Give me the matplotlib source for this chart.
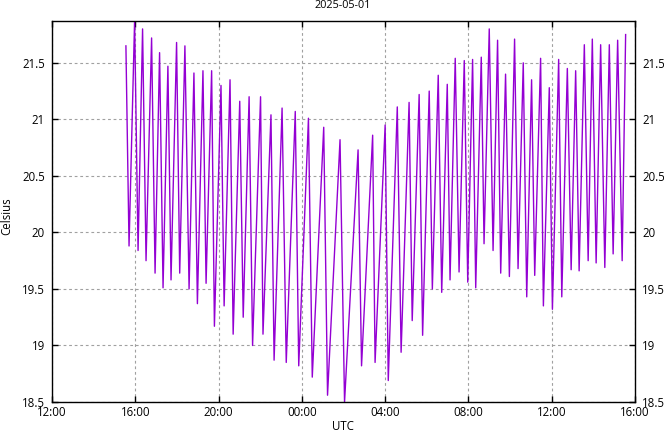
import pandas as pd
import matplotlib
matplotlib.use("Agg")
import matplotlib.pyplot as plt
import matplotlib.dates as mdates
from matplotlib.ticker import FormatStrFormatter

# Turning points of the temperature trace (UTC)
times = [
    "2025-04-30 15:33", "2025-04-30 15:42", "2025-04-30 15:58", "2025-04-30 16:08",
    "2025-04-30 16:21", "2025-04-30 16:31", "2025-04-30 16:47", "2025-04-30 16:57",
    "2025-04-30 17:10", "2025-04-30 17:20", "2025-04-30 17:34", "2025-04-30 17:43",
    "2025-04-30 17:59", "2025-04-30 18:08", "2025-04-30 18:23", "2025-04-30 18:35",
    "2025-04-30 18:49", "2025-04-30 18:59", "2025-04-30 19:15", "2025-04-30 19:24",
    "2025-04-30 19:40", "2025-04-30 19:48", "2025-04-30 20:07", "2025-04-30 20:16",
    "2025-04-30 20:33", "2025-04-30 20:42", "2025-04-30 21:01", "2025-04-30 21:11",
    "2025-04-30 21:28", "2025-04-30 21:38", "2025-04-30 22:01", "2025-04-30 22:08",
    "2025-04-30 22:31", "2025-04-30 22:40", "2025-04-30 23:03", "2025-04-30 23:15",
    "2025-04-30 23:41", "2025-04-30 23:51", "2025-05-01 00:19", "2025-05-01 00:30",
    "2025-05-01 01:03", "2025-05-01 01:14", "2025-05-01 01:50", "2025-05-01 02:03",
    "2025-05-01 02:42", "2025-05-01 02:52", "2025-05-01 03:24", "2025-05-01 03:31",
    "2025-05-01 04:00", "2025-05-01 04:09", "2025-05-01 04:35", "2025-05-01 04:46",
    "2025-05-01 05:09", "2025-05-01 05:18", "2025-05-01 05:38", "2025-05-01 05:48",
    "2025-05-01 06:07", "2025-05-01 06:16", "2025-05-01 06:33", "2025-05-01 06:43",
    "2025-05-01 06:59", "2025-05-01 07:07", "2025-05-01 07:22", "2025-05-01 07:33",
    "2025-05-01 07:48", "2025-05-01 07:58", "2025-05-01 08:12", "2025-05-01 08:21",
    "2025-05-01 08:37", "2025-05-01 08:45", "2025-05-01 09:00", "2025-05-01 09:11",
    "2025-05-01 09:24", "2025-05-01 09:33", "2025-05-01 09:47", "2025-05-01 09:58",
    "2025-05-01 10:13", "2025-05-01 10:23", "2025-05-01 10:38", "2025-05-01 10:48",
    "2025-05-01 11:02", "2025-05-01 11:11", "2025-05-01 11:28", "2025-05-01 11:36",
    "2025-05-01 11:53", "2025-05-01 12:02", "2025-05-01 12:20", "2025-05-01 12:29",
    "2025-05-01 12:45", "2025-05-01 12:56", "2025-05-01 13:09", "2025-05-01 13:19",
    "2025-05-01 13:34", "2025-05-01 13:45", "2025-05-01 13:57", "2025-05-01 14:08",
    "2025-05-01 14:21", "2025-05-01 14:33", "2025-05-01 14:46", "2025-05-01 14:57",
    "2025-05-01 15:10", "2025-05-01 15:23", "2025-05-01 15:33",
]
celsius = [
    21.65, 19.88, 21.87, 19.84, 21.80, 19.75, 21.72, 19.64,
    21.59, 19.51, 21.47, 19.58, 21.68, 19.64, 21.65, 19.50,
    21.41, 19.37, 21.43, 19.55, 21.43, 19.17, 21.30, 19.35,
    21.35, 19.10, 21.16, 19.25, 21.20, 19.00, 21.20, 19.10,
    21.04, 18.87, 21.10, 18.85, 21.07, 18.82, 21.01, 18.72,
    20.93, 18.56, 20.82, 18.50, 20.73, 18.82, 20.86, 18.85,
    20.95, 18.69, 21.11, 18.94, 21.15, 19.22, 21.22, 19.09,
    21.25, 19.50, 21.39, 19.47, 21.31, 19.58, 21.54, 19.65,
    21.52, 19.56, 21.53, 19.51, 21.55, 19.90, 21.80, 19.84,
    21.70, 19.64, 21.40, 19.61, 21.71, 19.68, 21.50, 19.43,
    21.35, 19.62, 21.54, 19.35, 21.28, 19.32, 21.53, 19.43,
    21.45, 19.67, 21.43, 19.66, 21.66, 19.75, 21.71, 19.73,
    21.66, 19.69, 21.66, 19.81, 21.70, 19.75, 21.75,
]
y_ticks = [18.5, 19, 19.5, 20, 20.5, 21, 21.5]

t = pd.to_datetime(times)

plt.rcParams["font.family"] = ["Open Sans", "DejaVu Sans"]

fig = plt.figure(figsize=(6.64, 4.32), dpi=100)
ax = fig.add_axes([52 / 664, 1 - 402 / 432, 583 / 664, 381 / 432])

ax.plot(t, celsius, color="#9400d3", linewidth=1)

ax.set_xlim(pd.Timestamp("2025-04-30 12:00"), pd.Timestamp("2025-05-01 16:00"))
ax.set_ylim(18.5, 21.87)
ax.xaxis.set_major_locator(mdates.HourLocator(byhour=[0, 4, 8, 12, 16, 20]))
ax.xaxis.set_major_formatter(mdates.DateFormatter("%H:%M"))
ax.set_yticks(y_ticks)
ax.yaxis.set_major_formatter(FormatStrFormatter("%g"))

ax.tick_params(direction="in", top=True, right=True, labelright=True,
               length=4, width=1, labelsize=8.3, colors="black")
ax.tick_params(axis="y", pad=5)
ax.tick_params(axis="x", pad=3)
ax.grid(True, color="#a0a0a0", linestyle=(0, (2.5, 2.5)), linewidth=0.8)
for s in ax.spines.values():
    s.set_linewidth(1)

# axis labels and title placed like the gnuplot original
fig.text(343 / 664, 1 - 427 / 432, "UTC", fontsize=8.3, ha="center", va="center")
fig.text(7 / 664, 1 - 216 / 432, "Celsius", fontsize=8.3, ha="center", va="center",
         rotation=90)
fig.text(343 / 664, 1 - 5 / 432, "2025-05-01", fontsize=7.8, ha="center", va="center")

fig.savefig("out.png", dpi=100)
